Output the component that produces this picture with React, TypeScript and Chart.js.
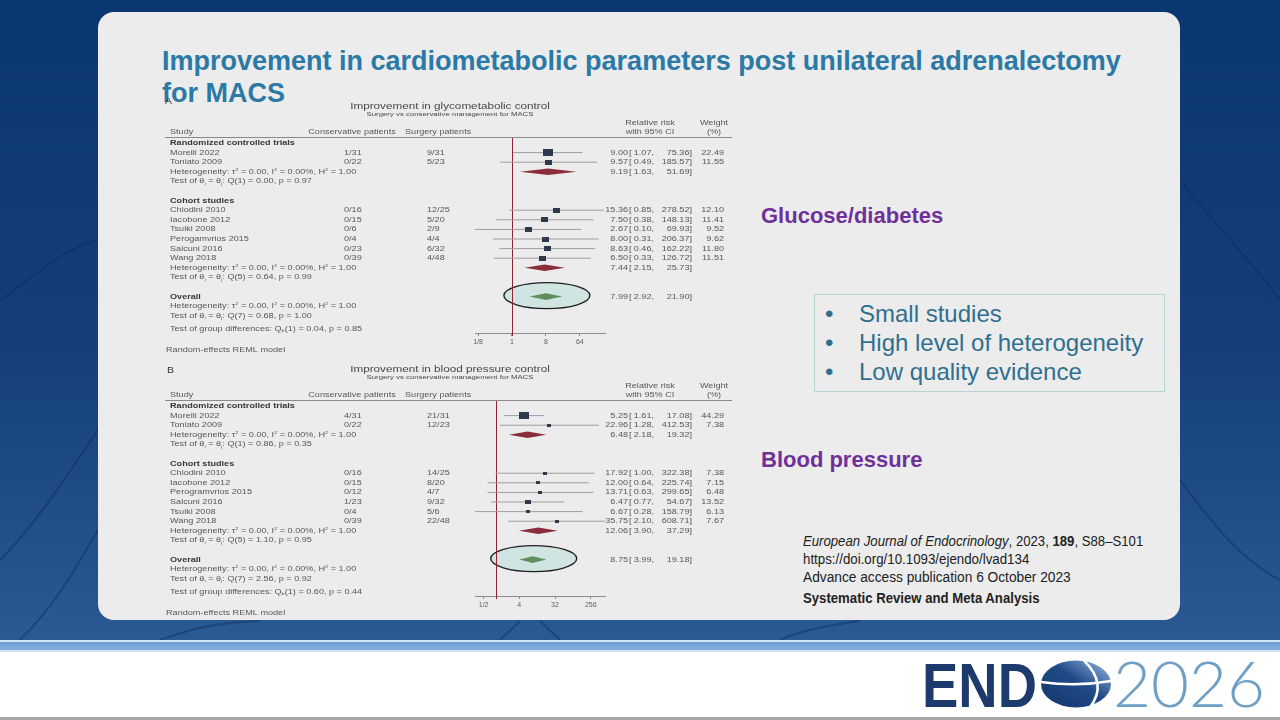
import React, { useEffect, useRef } from "react";
import { Chart, registerables } from "chart.js";
Chart.register(...registerables);

// ---------------- Panel A: glycometabolic control ----------------
const glyStudies = ["Morelli 2022", "Toniato 2009", "Chiodini 2010", "Iacobone 2012", "Tsuiki 2008", "Perogamvrios 2015", "Salcuni 2016", "Wang 2018"];
const glyConservative = ["1/31", "0/22", "0/16", "0/15", "0/6", "0/4", "0/23", "0/39"];
const glySurgery = ["9/31", "5/23", "12/25", "5/20", "2/9", "4/4", "6/32", "4/48"];
const glyRR = [9.0, 9.57, 15.36, 7.5, 2.67, 8.0, 8.63, 6.5];
const glyLow = [1.07, 0.49, 0.85, 0.38, 0.1, 0.31, 0.46, 0.33];
const glyHigh = [75.36, 185.57, 278.52, 148.13, 69.93, 206.37, 162.22, 126.72];
const glyWeight = [22.49, 11.55, 12.1, 11.41, 9.52, 9.62, 11.8, 11.51];
const glyRctPooled = [9.19, 1.63, 51.69];
const glyCohortPooled = [7.44, 2.15, 25.73];
const glyOverall = [7.99, 2.92, 21.9];
const glyRctTest = "Test of θ_i = θ_j: Q(1) = 0.00, p = 0.97";
const glyCohortTest = "Test of θ_i = θ_j: Q(5) = 0.64, p = 0.99";
const glyOverallTest = "Test of θ_i = θ_j: Q(7) = 0.68, p = 1.00";
const glyGroupDiff = "Test of group differences: Q_b(1) = 0.04, p = 0.85";
const glyTicks = [0.125, 1, 8, 64];
const glyTickLabels = ["1/8", "1", "8", "64"];

// ---------------- Panel B: blood pressure control ----------------
const bpStudies = ["Morelli 2022", "Toniato 2009", "Chiodini 2010", "Iacobone 2012", "Perogramvrios 2015", "Salcuni 2016", "Tsuiki 2008", "Wang 2018"];
const bpConservative = ["4/31", "0/22", "0/16", "0/15", "0/12", "1/23", "0/4", "0/39"];
const bpSurgery = ["21/31", "12/23", "14/25", "8/20", "4/7", "9/32", "5/6", "22/48"];
const bpRR = [5.25, 22.96, 17.92, 12.0, 13.71, 6.47, 6.67, 35.75];
const bpLow = [1.61, 1.28, 1.0, 0.64, 0.63, 0.77, 0.28, 2.1];
const bpHigh = [17.08, 412.53, 322.38, 225.74, 299.65, 54.67, 158.79, 608.71];
const bpWeight = [44.29, 7.38, 7.38, 7.15, 6.48, 13.52, 6.13, 7.67];
const bpRctPooled = [6.48, 2.18, 19.32];
const bpCohortPooled = [12.06, 3.9, 37.29];
const bpOverall = [8.75, 3.99, 19.18];
const bpRctTest = "Test of θ_i = θ_j: Q(1) = 0.86, p = 0.35";
const bpCohortTest = "Test of θ_i = θ_j: Q(5) = 1.10, p = 0.95";
const bpOverallTest = "Test of θ_i = θ_j: Q(7) = 2.56, p = 0.92";
const bpGroupDiff = "Test of group differences: Q_b(1) = 0.60, p = 0.44";
const bpTicks = [0.5, 4, 32, 256];
const bpTickLabels = ["1/2", "4", "32", "256"];

const hetText = "Heterogeneity: τ^2 = 0.00, I^2 = 0.00%, H^2 = 1.00";

const FONT = '"Liberation Sans", Arial, Helvetica, sans-serif';
const SX = 1.3; // horizontal stretch of the embedded figure
const TXT = "#575757";
const BOLD = "#363636";

type Spec = any;

const glySpec: Spec = {
  letter: "A", letterX: 5, letterRow: -4.3,
  title: "Improvement in glycometabolic control",
  subtitle: "Surgery vs conservative management for MACS",
  studies: glyStudies, cons: glyConservative, surg: glySurgery,
  rr: glyRR, lo: glyLow, hi: glyHigh, w: glyWeight, nRct: 2,
  rctPool: glyRctPooled, rctTest: glyRctTest,
  cohPool: glyCohortPooled, cohTest: glyCohortTest,
  overall: glyOverall, overallTest: glyOverallTest, groupDiff: glyGroupDiff,
  ticks: glyTicks, tickLabels: glyTickLabels, xmin: 0.1034, xmax: 300,
};
const bpSpec: Spec = {
  letter: "B", letterX: 7, letterRow: -3.7,
  title: "Improvement in blood pressure control",
  subtitle: "Surgery vs conservative management for MACS",
  studies: bpStudies, cons: bpConservative, surg: bpSurgery,
  rr: bpRR, lo: bpLow, hi: bpHigh, w: bpWeight, nRct: 2,
  rctPool: bpRctPooled, rctTest: bpRctTest,
  cohPool: bpCohortPooled, cohTest: bpCohortTest,
  overall: bpOverall, overallTest: bpOverallTest, groupDiff: bpGroupDiff,
  ticks: bpTicks, tickLabels: bpTickLabels, xmin: 0.303, xmax: 588,
};

function txt(ctx: CanvasRenderingContext2D, s: string, x: number, y: number, align: CanvasTextAlign, font: string, color: string, sx = SX) {
  ctx.save();
  ctx.font = font;
  ctx.fillStyle = color;
  ctx.textBaseline = "middle";
  ctx.textAlign = align;
  ctx.translate(x, y);
  ctx.scale(sx, 1);
  ctx.fillText(s, 0, 0);
  ctx.restore();
}

function rich(ctx: CanvasRenderingContext2D, s: string, x: number, y: number, size: number, color: string) {
  ctx.save();
  ctx.translate(x, y);
  ctx.scale(SX, 1);
  ctx.fillStyle = color;
  ctx.textBaseline = "middle";
  ctx.textAlign = "left";
  let cx = 0;
  let run = "";
  const flush = () => {
    if (!run) return;
    ctx.font = `${size}px ${FONT}`;
    ctx.fillText(run, cx, 0);
    cx += ctx.measureText(run).width;
    run = "";
  };
  for (let i = 0; i < s.length; i++) {
    const ch = s[i];
    if ((ch === "^" || ch === "_") && i + 1 < s.length) {
      flush();
      const c2 = s[++i];
      const sz = size * 0.62;
      ctx.font = `${sz}px ${FONT}`;
      ctx.fillText(c2, cx, ch === "^" ? -size * 0.33 : size * 0.3);
      cx += ctx.measureText(c2).width;
    } else run += ch;
  }
  flush();
  ctx.restore();
}

const COL_STUDY = 10, COL_CONS = 184, COL_SURG = 267, COL_EST = 468, COL_BR = 469, COL_LO = 494, COL_HI = 532, COL_W = 564;

function ForestPlot({ spec, left, top }: { spec: Spec; left: number; top: number }) {
  const ref = useRef<HTMLCanvasElement | null>(null);
  useEffect(() => {
    const canvas = ref.current;
    if (!canvas) return;
    const nR = spec.nRct;
    const nC = spec.studies.length - nR;
    const studyRow = (i: number) => (i < nR ? 1 + i : nR + 5 + (i - nR));
    const rRctHet = nR + 1, rRctTest = nR + 2, rCohHdr = nR + 4;
    const rCohHet = nR + 5 + nC, rCohTest = rCohHet + 1;
    const rOverall = rCohTest + 2, rOvHet = rOverall + 1, rOvTest = rOverall + 2;
    const rGroup = rOverall + 3.33, rModel = rOverall + 5.55;

    const maxW = Math.max(...spec.w);
    const imgs = spec.w.map((w: number) => {
      const s = 10 * Math.sqrt(w / maxW);
      const c = document.createElement("canvas");
      c.width = Math.max(2, Math.round(s));
      c.height = Math.max(2, Math.round(s * 0.72));
      const g = c.getContext("2d")!;
      g.fillStyle = "#2e3a4b";
      g.fillRect(0, 0, c.width, c.height);
      return c;
    });

    const ciSets = spec.studies.map((_: string, i: number) => ({
      data: [{ x: spec.lo[i], y: studyRow(i) }, { x: spec.hi[i], y: studyRow(i) }],
      showLine: true, borderColor: "#9d9d9d", borderWidth: 1, pointRadius: 0, order: 2,
    }));
    const sqSet = {
      data: spec.rr.map((v: number, i: number) => ({ x: v, y: studyRow(i) })),
      pointStyle: imgs, pointRadius: 5, showLine: false, order: 1,
    };

    const f7 = `7px ${FONT}`;
    const b7 = `bold 7px ${FONT}`;

    const drawRR = (ctx: CanvasRenderingContext2D, y: number, v: number[]) => {
      txt(ctx, v[0].toFixed(2), COL_EST, y, "right", f7, TXT);
      txt(ctx, "[", COL_BR, y, "left", f7, TXT);
      txt(ctx, v[1].toFixed(2) + ",", COL_LO, y, "right", f7, TXT);
      txt(ctx, v[2].toFixed(2) + "]", COL_HI, y, "right", f7, TXT);
    };

    const diamond = (chart: any, v: number[], row: number, color: string) => {
      const { ctx, scales: { x, y } } = chart;
      const yc = y.getPixelForValue(row);
      const xl = x.getPixelForValue(v[1]), xc = x.getPixelForValue(v[0]), xr = x.getPixelForValue(v[2]);
      ctx.save();
      ctx.beginPath();
      ctx.moveTo(xl, yc);
      ctx.lineTo(xc, yc - 3.3);
      ctx.lineTo(xr, yc);
      ctx.lineTo(xc, yc + 3.3);
      ctx.closePath();
      ctx.fillStyle = color;
      ctx.fill();
      ctx.restore();
    };

    const plugin = {
      id: "forest",
      beforeDatasetsDraw(chart: any) {
        const { ctx, chartArea, scales: { x, y } } = chart;
        const cx = x.getPixelForValue(spec.overall[0]) + 1;
        const cy = y.getPixelForValue(rOverall) - 1;
        ctx.save();
        ctx.beginPath();
        ctx.ellipse(cx, cy, 43, 13, 0, 0, Math.PI * 2);
        ctx.fillStyle = "#d0e4e1";
        ctx.fill();
        ctx.lineWidth = 1.4;
        ctx.strokeStyle = "#1f1f1f";
        ctx.stroke();
        const x1 = Math.round(x.getPixelForValue(1)) + 0.5;
        ctx.beginPath();
        ctx.moveTo(x1, chartArea.top);
        ctx.lineTo(x1, chartArea.bottom + 3);
        ctx.strokeStyle = "#8e2434";
        ctx.lineWidth = 1;
        ctx.stroke();
        ctx.restore();
      },
      afterDatasetsDraw(chart: any) {
        diamond(chart, spec.rctPool, rRctHet, "#8c2d3b");
        diamond(chart, spec.cohPool, rCohHet, "#8c2d3b");
        diamond(chart, spec.overall, rOverall, "#5f8f5c");
      },
      afterDraw(chart: any) {
        const { ctx, chartArea, scales: { y } } = chart;
        const Y = (r: number) => y.getPixelForValue(r);
        ctx.save();
        ctx.beginPath();
        ctx.moveTo(5, Math.round(chartArea.top) + 0.5);
        ctx.lineTo(572, Math.round(chartArea.top) + 0.5);
        ctx.strokeStyle = "#8a8a8a";
        ctx.lineWidth = 1;
        ctx.stroke();
        ctx.restore();
        txt(ctx, spec.letter, spec.letterX, Y(spec.letterRow), "left", `9.5px ${FONT}`, "#333", 1.1);
        txt(ctx, spec.title, 290, Y(-3.85), "center", `9px ${FONT}`, "#464646");
        txt(ctx, spec.subtitle, 290, Y(-3.02), "center", `6px ${FONT}`, "#464646");
        txt(ctx, "Study", COL_STUDY, Y(-1.1), "left", f7, TXT);
        txt(ctx, "Conservative patients", 192, Y(-1.1), "center", f7, TXT);
        txt(ctx, "Surgery patients", 245, Y(-1.1), "left", f7, TXT);
        txt(ctx, "Relative risk", 490, Y(-2.03), "center", f7, TXT);
        txt(ctx, "with 95% CI", 490, Y(-1.1), "center", f7, TXT);
        txt(ctx, "Weight", 554, Y(-2.03), "center", f7, TXT);
        txt(ctx, "(%)", 554, Y(-1.1), "center", f7, TXT);
        txt(ctx, "Randomized controlled trials", COL_STUDY, Y(0), "left", b7, BOLD);
        txt(ctx, "Cohort studies", COL_STUDY, Y(rCohHdr), "left", b7, BOLD);
        txt(ctx, "Overall", COL_STUDY, Y(rOverall), "left", b7, BOLD);
        spec.studies.forEach((s: string, i: number) => {
          const yy = Y(studyRow(i));
          txt(ctx, s, COL_STUDY, yy, "left", f7, TXT);
          txt(ctx, spec.cons[i], COL_CONS, yy, "left", f7, TXT);
          txt(ctx, spec.surg[i], COL_SURG, yy, "left", f7, TXT);
          drawRR(ctx, yy, [spec.rr[i], spec.lo[i], spec.hi[i]]);
          txt(ctx, spec.w[i].toFixed(2), COL_W, yy, "right", f7, TXT);
        });
        rich(ctx, hetText, COL_STUDY, Y(rRctHet), 7, TXT);
        drawRR(ctx, Y(rRctHet), spec.rctPool);
        rich(ctx, spec.rctTest, COL_STUDY, Y(rRctTest), 7, TXT);
        rich(ctx, hetText, COL_STUDY, Y(rCohHet), 7, TXT);
        drawRR(ctx, Y(rCohHet), spec.cohPool);
        rich(ctx, spec.cohTest, COL_STUDY, Y(rCohTest), 7, TXT);
        drawRR(ctx, Y(rOverall), spec.overall);
        rich(ctx, hetText, COL_STUDY, Y(rOvHet), 7, TXT);
        rich(ctx, spec.overallTest, COL_STUDY, Y(rOvTest), 7, TXT);
        rich(ctx, spec.groupDiff, COL_STUDY, Y(rGroup), 7, TXT);
        txt(ctx, "Random-effects REML model", 6, Y(rModel), "left", f7, TXT);
      },
    };

    const chart = new Chart(canvas, {
      type: "scatter",
      data: { datasets: [sqSet, ...ciSets] as any },
      options: {
        animation: false,
        responsive: false,
        events: [],
        layout: { padding: { left: 315, right: 135, top: 42, bottom: 7 } },
        plugins: { legend: { display: false }, tooltip: { enabled: false } },
        scales: {
          x: {
            type: "logarithmic",
            min: spec.xmin,
            max: spec.xmax,
            bounds: "data",
            afterBuildTicks: (s: any) => {
              s.ticks = spec.ticks.map((v: number) => ({ value: v }));
            },
            afterFit: (s: any) => {
              s.height = 20;
            },
            grid: { display: true, drawOnChartArea: false, drawTicks: true, tickLength: 3, color: "#8c8c8c" },
            border: { display: true, color: "#8c8c8c", width: 1 },
            ticks: {
              autoSkip: false,
              maxRotation: 0,
              padding: 2,
              color: "#5e5e5e",
              font: { family: FONT, size: 7 },
              callback: (_v: any, i: number) => spec.tickLabels[i],
            },
          } as any,
          y: { type: "linear", display: false, reverse: true, min: -0.625, max: 19.79 },
        },
      },
      plugins: [plugin],
    });
    return () => chart.destroy();
  }, [spec]);
  return (
    <canvas
      ref={ref}
      width={580}
      height={265}
      style={{ position: "absolute", left, top, width: 580, height: 265 }}
    />
  );
}

export default function App() {
  useEffect(() => {
    document.body.style.margin = "0";
  }, []);
  const bullet = (t: string, cy: number) => (
    <div key={t} style={{ position: "absolute", left: 825, top: cy - 15, height: 30, lineHeight: "30px", fontSize: 24, color: "#2f6f8f", whiteSpace: "nowrap" }}>
      <span style={{ display: "inline-block", width: 34 }}>•</span>
      {t}
    </div>
  );
  const cite = (content: React.ReactNode, cy: number, sx: number, extra: any = {}) => (
    <div style={{ position: "absolute", left: 803, top: cy - 9, height: 18, lineHeight: "18px", fontSize: 14, color: "#222", whiteSpace: "nowrap", transform: `scaleX(${sx})`, transformOrigin: "0 50%", ...extra }}>{content}</div>
  );
  return (
    <div style={{ position: "fixed", left: 0, top: 0, width: 1280, height: 720, overflow: "hidden", background: "#fff", fontFamily: FONT }}>
      <div style={{ position: "absolute", left: 0, top: 0, width: 1280, height: 640, background: "linear-gradient(180deg, #0b3770 0%, #143f7a 55%, #2a5994 100%)" }} />
      <svg width={1280} height={640} style={{ position: "absolute", left: 0, top: 0 }}>
        <g stroke="#0a2c5a" strokeOpacity={0.45} strokeWidth={2} fill="none">
          <path d="M0 560 C40 520 70 470 98 430" />
          <path d="M20 640 C60 600 80 560 98 530" />
          <path d="M0 300 C30 280 60 250 98 240" />
          <path d="M1180 180 C1220 230 1250 260 1280 300" />
          <path d="M1180 480 C1210 520 1240 560 1280 580" />
          <path d="M160 640 C200 625 230 622 260 621" />
          <path d="M500 640 L520 621" />
          <path d="M540 621 L560 640" />
          <path d="M780 640 C800 630 830 625 860 621" />
        </g>
      </svg>
      <div style={{ position: "absolute", left: 0, top: 640, width: 1280, height: 2, background: "#cfe6f6" }} />
      <div style={{ position: "absolute", left: 0, top: 642, width: 1280, height: 8, background: "linear-gradient(180deg, #6c9bd3, #86b1de)" }} />
      <div style={{ position: "absolute", left: 0, top: 650, width: 1280, height: 2, background: "#cfe3f3" }} />
      <div style={{ position: "absolute", left: 0, top: 717, width: 1280, height: 3, background: "#a6a6a6" }} />
      <div style={{ position: "absolute", left: 98, top: 12, width: 1082, height: 608, background: "#ececec", borderRadius: 16 }} />

      <div style={{ position: "absolute", left: 162, top: 45, lineHeight: "32px", fontSize: 27, fontWeight: "bold", color: "#2b79a5", whiteSpace: "nowrap" }}>
        Improvement in cardiometabolic parameters post unilateral adrenalectomy
        <br />
        for MACS
      </div>

      <ForestPlot spec={glySpec} left={160} top={95} />
      <ForestPlot spec={bpSpec} left={160} top={358} />

      <div style={{ position: "absolute", left: 761, top: 203, lineHeight: "26px", fontSize: 22, fontWeight: "bold", color: "#70309a", whiteSpace: "nowrap" }}>Glucose/diabetes</div>
      <div style={{ position: "absolute", left: 761, top: 447, lineHeight: "26px", fontSize: 22, fontWeight: "bold", color: "#70309a", whiteSpace: "nowrap" }}>Blood pressure</div>

      <div style={{ position: "absolute", left: 814, top: 294, width: 349, height: 96, border: "1px solid #b6d2d2" }} />
      {bullet("Small studies", 314)}
      {bullet("High level of heterogeneity", 343)}
      {bullet("Low quality evidence", 372)}

      {cite(<span><i>European Journal of Endocrinology</i>, 2023, <b>189</b>, S88–S101</span>, 541, 0.94)}
      {cite("https://doi.org/10.1093/ejendo/lvad134", 559, 0.95)}
      {cite("Advance access publication 6 October 2023", 577, 0.98)}
      {cite("Systematic Review and Meta Analysis", 598, 0.94, { fontWeight: "bold" })}

      <svg width={1280} height={80} style={{ position: "absolute", left: 0, top: 640 }}>
        <defs>
          <linearGradient id="globeGrad" x1="0" y1="1" x2="1" y2="0">
            <stop offset="0" stopColor="#14346a" />
            <stop offset="0.55" stopColor="#1f4b88" />
            <stop offset="1" stopColor="#9dbde2" />
          </linearGradient>
        </defs>
        <text x={922} y={67} fontFamily={FONT} fontWeight="bold" fontSize={63} fill="#1c3a6c" textLength={115} lengthAdjust="spacingAndGlyphs">END</text>
        <ellipse cx={1076} cy={44} rx={35} ry={23.5} fill="url(#globeGrad)" />
        <path d="M1041 42 Q1076 47 1111 41" stroke="#ffffff" strokeWidth={2.5} fill="none" />
        <path d="M1084 20.7 Q1108 44 1090 67.3" stroke="#ffffff" strokeWidth={2.5} fill="none" />
        <text x={1113} y={67} fontFamily="Lato, 'Open Sans', sans-serif" fontWeight={300} fontSize={64} fill="#6f9fc5" textLength={152} lengthAdjust="spacingAndGlyphs">2026</text>
      </svg>
    </div>
  );
}
